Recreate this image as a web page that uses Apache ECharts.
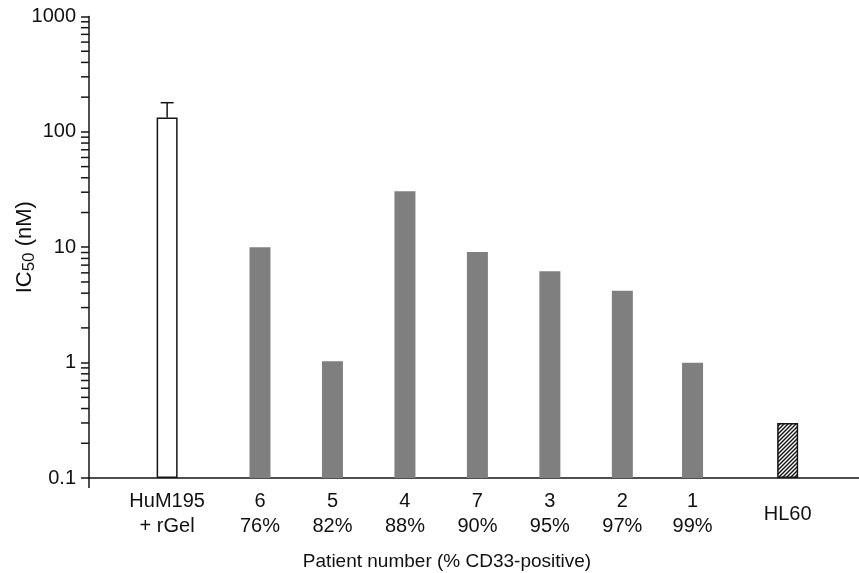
<!DOCTYPE html>
<html>
<head>
<meta charset="utf-8">
<script src="https://cdn.jsdelivr.net/npm/echarts@6/dist/echarts.min.js"></script>
<style>
html,body{margin:0;padding:0;background:#fff;}
#chart{width:859px;height:573px;}
</style>
</head>
<body>
<div id="chart"></div>
<script>
// ---- data ----
const categories = ['HuM195\n+ rGel', '6\n76%', '5\n82%', '4\n88%', '7\n90%', '3\n95%', '2\n97%', '1\n99%', 'HL60'];
const ic50 = [133, 10, 1.03, 30.5, 9.1, 6.2, 4.2, 1.0, 0.30];
const errUpper = [179, null, null, null, null, null, null, null, null];
const barKinds = ['open', 'patient', 'patient', 'patient', 'patient', 'patient', 'patient', 'patient', 'hatched'];
const yTickValues = [0.1, 1, 10, 100, 1000];
const yTickLabels = ['0.1', '1', '10', '100', '1000'];
const xAxisTitle = 'Patient number (% CD33-positive)';

// ---- layout (slot positions on a fine category axis) ----
const SLOT_COUNT = 340;
const slots = [34, 75, 107, 139, 171, 203, 235, 266, 308];

const FONT = "'Liberation Sans', Arial, Helvetica, sans-serif";
const INK = '#151515';

// hatch pattern
const pat = document.createElement('canvas');
pat.width = 4; pat.height = 4;
const pc = pat.getContext('2d');
pc.fillStyle = '#fff'; pc.fillRect(0, 0, 4, 4);
pc.strokeStyle = '#111'; pc.lineWidth = 1.4;
pc.beginPath();
pc.moveTo(0, 4); pc.lineTo(4, 0);
pc.moveTo(-1, 1); pc.lineTo(1, -1);
pc.moveTo(3, 5); pc.lineTo(5, 3);
pc.stroke();

const styles = {
  open: { color: '#ffffff', borderColor: INK, borderWidth: 1.5 },
  patient: { color: '#7f7f7f', borderWidth: 0 },
  hatched: { color: { image: pat, repeat: 'repeat' }, borderColor: INK, borderWidth: 1.5 }
};

const xData = [];
const labelAt = {};
for (let i = 0; i < SLOT_COUNT; i++) xData.push('s' + i);
const barData = new Array(SLOT_COUNT).fill('-');
const errData = [];
categories.forEach((c, i) => {
  labelAt[slots[i]] = c;
  barData[slots[i]] = { value: ic50[i], itemStyle: styles[barKinds[i]] };
  if (errUpper[i] != null) errData.push([slots[i], ic50[i], errUpper[i]]);
});

const minorData = [];
for (let d = 0; d < yTickValues.length - 1; d++) {
  for (let m = 2; m <= 9; m++) minorData.push([0, +(yTickValues[d] * m).toPrecision(3), 0]);
}
// origin tick below x axis
minorData.push([0, yTickValues[0], 1]);

const chart = echarts.init(document.getElementById('chart'), null, { renderer: 'canvas' });
chart.setOption({
  animation: false,
  backgroundColor: '#fff',
  textStyle: { fontFamily: FONT },
  grid: { left: 89, right: 0, top: 16.5, bottom: 95, containLabel: false, outerBoundsMode: 'none' },
  xAxis: {
    type: 'category',
    data: xData,
    boundaryGap: true,
    axisLine: { lineStyle: { color: INK, width: 1.5 } },
    axisTick: { show: false },
    axisLabel: {
      interval: 0,
      margin: 11,
      color: '#111',
      fontSize: 20,
      lineHeight: 25,
      fontFamily: FONT,
      formatter: (v, idx) => {
        const t = labelAt[idx];
        if (!t) return '';
        return t.indexOf('\n') < 0 ? '{one|' + t + '}' : t;
      },
      rich: { one: { fontSize: 20, lineHeight: 50, fontFamily: FONT, color: '#111' } }
    },
    splitLine: { show: false }
  },
  yAxis: {
    type: 'log',
    logBase: 10,
    min: 0.1,
    max: 1000,
    startValue: 0.1,
    axisLine: { show: true, lineStyle: { color: INK, width: 1.5 } },
    axisTick: { show: true, length: 8, lineStyle: { color: INK, width: 1.5 } },
    axisLabel: {
      margin: 13,
      color: '#111',
      fontSize: 20,
      fontFamily: FONT,
      formatter: (v) => {
        for (let i = 0; i < yTickValues.length; i++) {
          if (Math.abs(Math.log10(v) - Math.log10(yTickValues[i])) < 1e-6) return yTickLabels[i];
        }
        return '';
      }
    },
    splitLine: { show: false },
    name: 'IC{sub|50} (nM)',
    nameLocation: 'middle',
    nameRotate: 90,
    nameGap: 51,
    nameMoveOverlap: false,
    nameTextStyle: {
      fontSize: 22, color: '#111', fontFamily: FONT,
      rich: { sub: { fontSize: 17, padding: [10, 0, 0, 0], fontFamily: FONT, color: '#111' } }
    }
  },
  graphic: [{
    type: 'text', x: 447, y: 562,
    style: { text: xAxisTitle, font: '19px ' + FONT, fill: '#111', textAlign: 'center', textVerticalAlign: 'middle' }
  }],
  series: [
    { type: 'bar', data: barData, barWidth: 21, barGap: '0%', z: 2 },
    {
      type: 'custom', data: errData, z: 3, clip: false,
      renderItem: (params, api) => {
        const x = api.value(0);
        const lo = api.coord([x, api.value(1)]);
        const hi = api.coord([x, api.value(2)]);
        const style = { stroke: INK, lineWidth: 1.5 };
        return { type: 'group', children: [
          { type: 'line', shape: { x1: lo[0], y1: lo[1], x2: hi[0], y2: hi[1] }, style },
          { type: 'line', shape: { x1: hi[0] - 6.5, y1: hi[1], x2: hi[0] + 6.5, y2: hi[1] }, style }
        ]};
      }
    },
    {
      type: 'custom', data: minorData, z: 3, clip: false,
      renderItem: (params, api) => {
        const p = api.coord([0, api.value(1)]);
        const x0 = params.coordSys.x;
        const down = api.value(2) === 1;
        const shape = down ? { x1: x0, y1: p[1], x2: x0, y2: p[1] + 10 } : { x1: x0 - 8, y1: p[1], x2: x0, y2: p[1] };
        return { type: 'line', shape, style: { stroke: INK, lineWidth: 1.5 } };
      }
    }
  ]
});
</script>
</body>
</html>
